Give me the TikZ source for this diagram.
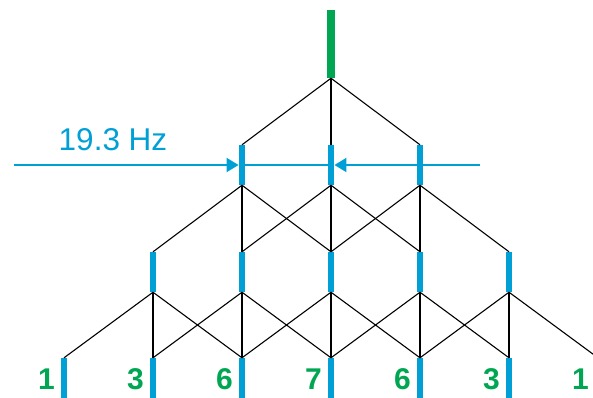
\documentclass[tikz,border=0pt]{standalone}
\usepackage{fontspec}
\setmainfont{Liberation Sans}
\usetikzlibrary{arrows.meta}
\definecolor{nmrblue}{RGB}{0,160,214}
\definecolor{nmrgreen}{RGB}{0,166,81}
\tikzset{
  bar/.style={rectangle, fill=nmrblue, inner sep=0pt, minimum width=6.5pt, minimum height=40pt},
  topbar/.style={rectangle, fill=nmrgreen, inner sep=0pt, minimum width=8.5pt, minimum height=68pt},
  link/.style={black, line width=1.1pt},
  dimarrow/.style={nmrblue, line width=2pt, -{Triangle[length=12pt,width=14pt]}},
  thin/.style={nmrblue, line width=1.3pt},
  count/.style={text=nmrgreen, font=\fontsize{30}{30}\selectfont\bfseries, anchor=base east, inner sep=0pt},
  hz/.style={text=nmrblue, font=\fontsize{31.5}{30}\selectfont, anchor=base, inner sep=0pt}
}
\begin{document}
\begin{tikzpicture}[x=1pt,y=-1pt]
\clip (0,0) rectangle (593,397);
% top
\node[topbar] (t) at (331,44) {};
% level 1
\foreach \i/\x in {1/242,2/331,3/420} \node[bar] (a\i) at (\x,165) {};
% level 2
\foreach \i/\x in {1/153,2/242,3/331,4/420,5/509} \node[bar] (b\i) at (\x,272) {};
% level 3
\foreach \i/\x in {1/64,2/153,3/242,4/331,5/420,6/509,7/598} \node[bar] (c\i) at (\x,378) {};
% links top -> level 1
\foreach \j in {1,2,3} \draw[link] (t.south) -- (a\j.north);
% level 1 -> level 2
\foreach \i in {1,2,3} {
  \pgfmathtruncatemacro{\l}{\i}
  \pgfmathtruncatemacro{\m}{\i+1}
  \pgfmathtruncatemacro{\r}{\i+2}
  \draw[link] (a\i.south) -- (b\l.north);
  \draw[link] (a\i.south) -- (b\m.north);
  \draw[link] (a\i.south) -- (b\r.north);
}
% level 2 -> level 3
\foreach \i in {1,...,5} {
  \pgfmathtruncatemacro{\l}{\i}
  \pgfmathtruncatemacro{\m}{\i+1}
  \pgfmathtruncatemacro{\r}{\i+2}
  \draw[link] (b\i.south) -- (c\l.north);
  \draw[link] (b\i.south) -- (c\m.north);
  \draw[link] (b\i.south) -- (c\r.north);
}
% coupling constant
\coordinate (ls) at (14,165);
\coordinate (rs) at (480,165);
\draw[dimarrow] (ls) -- (a1.west);
\draw[dimarrow] (rs) -- (a2.east);
\draw[thin] (a1.east) -- (a2.west);
\node[hz] (hzl) at (113,150) {19.3 Hz};
% counts
\node[count] (n1) at ([xshift=-5.5pt]c1.west |- 0,389) {1};
\node[count] (n2) at ([xshift=-5.5pt]c2.west |- 0,389) {3};
\node[count] (n3) at ([xshift=-5.5pt]c3.west |- 0,389) {6};
\node[count] (n4) at ([xshift=-5.5pt]c4.west |- 0,389) {7};
\node[count] (n5) at ([xshift=-5.5pt]c5.west |- 0,389) {6};
\node[count] (n6) at ([xshift=-5.5pt]c6.west |- 0,389) {3};
\node[count] (n7) at ([xshift=-5.5pt]c7.west |- 0,389) {1};
\end{tikzpicture}
\end{document}
